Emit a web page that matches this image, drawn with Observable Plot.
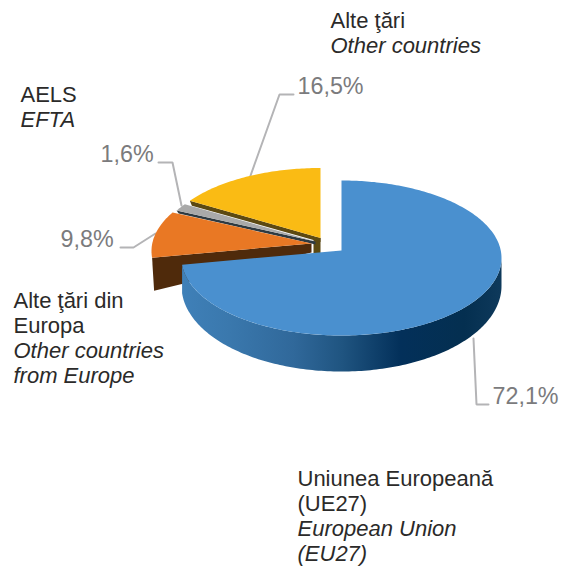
<!DOCTYPE html>
<html>
<head>
<meta charset="utf-8">
<script src="https://cdn.jsdelivr.net/npm/d3@7"></script>
<script src="https://cdn.jsdelivr.net/npm/@observablehq/plot@0.6"></script>
<style>html,body{margin:0;padding:0;background:#fff}svg{display:block}</style>
</head>
<body>
<div id="chart"></div>
<script>
// Data: clockwise from 12 o'clock
const categories = ["UE27", "Alte tari din Europa", "AELS", "Alte tari"];
const shares = [72.1, 9.8, 1.6, 16.5];
const shareLabels = ["72,1%", "9,8%", "1,6%", "16,5%"];
const categoryLabels = [
  ["Uniunea Europeană", "(UE27)", "European Union", "(EU27)"],
  ["Alte ţări din", "Europa", "Other countries", "from Europe"],
  ["AELS", "EFTA"],
  ["Alte ţări", "Other countries"]
];
const italicFrom = [2, 2, 1, 1];

// Layout (not data)
const W = 563, H = 567;
const RAD = Math.PI / 180;
const K = 0.0968, A = 76.8, B = 159.25;
const apexes = [[341, 250], [311, 243], [315, 241], [320, 237.5]];
const topFill = ["#4a90cf", "#e97824", "#a9a9a9", "#fabb14"];
const wallFill = [null, "#4f2a0b", "#2e3a42", "#5c4912"];
const wallDrop = [null, [9, 33], [3, 3], [4, 5]];
const labelAt = [[492, 396], [60, 239], [100, 154], [297, 86]];
const categoryAt = [[297, 478], [13, 300], [20, 94], [330, 20]];
const leaders = [
  [[473, 338], [476, 404], [488, 404]],
  [[120, 247], [133, 247], [155, 233]],
  [[158, 162], [172, 162], [181, 205]],
  [[293, 94], [279, 94], [249, 178]]
];

function proj(apex, deg) {
  const u = -Math.cos(deg * RAD), v = Math.sin(deg * RAD), s = 1 / (1 - K * u);
  return {x: apex[0] + B * v * s, y: apex[1] + A * u * s, u};
}
let acc = 0;
const slices = shares.map((v, i) => {
  const start = acc * 3.6; acc += v;
  return {i, start, end: acc * 3.6};
});
slices[3].end = 360;

function arc(apex, a, b) {
  const out = [];
  for (let d = a; d < b; d += 1) out.push(proj(apex, d));
  out.push(proj(apex, b));
  return out;
}
function face(s) {
  const ap = apexes[s.i];
  return [{x: ap[0], y: ap[1]}, ...arc(ap, s.start, s.end)];
}
// Radial inner wall below the edge of an exploded slice
function wall(s) {
  const ap = apexes[s.i];
  const p = proj(ap, s.start);
  const [dIn, dOut] = wallDrop[s.i];
  return [{x: p.x, y: p.y}, {x: ap[0], y: ap[1]}, {x: ap[0], y: ap[1] + dIn}, {x: p.x + 2, y: p.y + dOut}];
}
// Small end wall visible at the centre of the yellow slice
function stub(s) {
  const ap = apexes[s.i];
  return [{x: ap[0], y: ap[1]}, {x: ap[0], y: ap[1] + 15}, {x: ap[0] - 7, y: ap[1] + 15}, {x: ap[0] - 7, y: ap[1] - 1}];
}
// Outer rim of the big slice
const rimDepth = u => 27 + 9 * Math.max(u, 0);
function rim(s) {
  const ap = apexes[s.i];
  const a = Math.acos(-K) / RAD;
  const t = arc(ap, a, s.end);
  return [...t, ...t.slice().reverse().map(p => ({x: p.x, y: p.y + rimDepth(p.u)}))];
}

const shape = (pts, fill) => Plot.line(pts, {x: "x", y: "y", fill, stroke: "none", curve: "linear"});
const xy = pts => pts.map(([x, y]) => ({x, y}));

const marks = [
  () => {
    const svg = d3.create("svg:defs");
    const g = svg.append("linearGradient").attr("id", "rimGrad")
      .attr("gradientUnits", "userSpaceOnUse")
      .attr("x1", 181).attr("x2", 503).attr("y1", 0).attr("y2", 0);
    [[0, "#3f80b8"], [0.15, "#3a78ad"], [0.35, "#30689a"], [0.5, "#1f5480"], [0.68, "#03305a"], [0.88, "#042f50"], [1, "#0f3a5c"]]
      .forEach(([o, c]) => g.append("stop").attr("offset", o).attr("stop-color", c));
    return svg.node();
  },
  ...leaders.map(l => Plot.line(xy(l), {x: "x", y: "y", stroke: "#b4b4b6", strokeWidth: 2, strokeLinejoin: "miter", curve: "linear"})),
  shape(stub(slices[3]), wallFill[3]),
  shape(wall(slices[3]), wallFill[3]),
  shape(face(slices[3]), topFill[3]),
  shape(wall(slices[2]), wallFill[2]),
  shape(face(slices[2]), topFill[2]),
  shape(wall(slices[1]), wallFill[1]),
  shape(face(slices[1]), topFill[1]),
  shape(rim(slices[0]), "url(#rimGrad)"),
  shape(face(slices[0]), topFill[0]),
  Plot.text(shareLabels.map((t, i) => ({t, x: labelAt[i][0], y: labelAt[i][1]})), {
    x: "x", y: "y", text: "t", textAnchor: "start", lineAnchor: "middle",
    fill: "#7b7b7d", fontSize: 23.3
  })
];
const lineStep = 25;
categoryLabels.forEach((lines, c) => {
  const rows = lines.map((t, j) => ({t, x: categoryAt[c][0], y: categoryAt[c][1] + j * lineStep, it: j >= italicFrom[c]}));
  marks.push(Plot.text(rows.filter(d => !d.it), {x: "x", y: "y", text: "t", textAnchor: "start", lineAnchor: "middle", fill: "#2b2a29", fontSize: 22}));
  marks.push(Plot.text(rows.filter(d => d.it), {x: "x", y: "y", text: "t", textAnchor: "start", lineAnchor: "middle", fill: "#2b2a29", fontSize: 22, fontStyle: "italic"}));
});

const chart = Plot.plot({
  width: W, height: H,
  margin: 0,
  style: {fontFamily: "'Liberation Sans', Arial, sans-serif", background: "#fff"},
  x: {domain: [0, W], range: [0, W], axis: null},
  y: {domain: [0, H], range: [0, H], axis: null},
  marks
});
document.getElementById("chart").append(chart);
</script>
</body>
</html>
